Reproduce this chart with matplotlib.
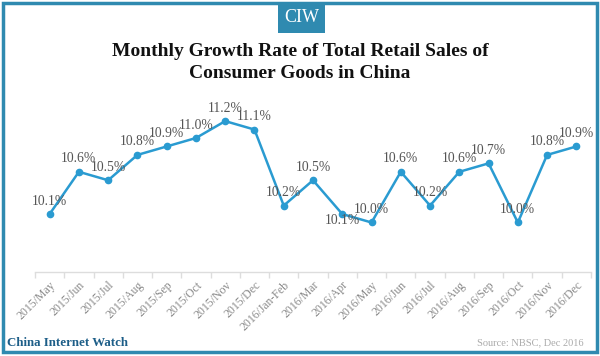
import matplotlib
matplotlib.use("Agg")
import matplotlib.pyplot as plt
from matplotlib.patches import Rectangle
import numpy as np

categories = ["2015/May", "2015/Jun", "2015/Jul", "2015/Aug", "2015/Sep", "2015/Oct",
              "2015/Nov", "2015/Dec", "2016/Jan-Feb", "2016/Mar", "2016/Apr", "2016/May",
              "2016/Jun", "2016/Jul", "2016/Aug", "2016/Sep", "2016/Oct", "2016/Nov", "2016/Dec"]
growth = [10.1, 10.6, 10.5, 10.8, 10.9, 11.0, 11.2, 11.1, 10.2, 10.5, 10.1, 10.0,
          10.6, 10.2, 10.6, 10.7, 10.0, 10.8, 10.9]
value_labels = ["10.1%", "10.6%", "10.5%", "10.8%", "10.9%", "11.0%", "11.2%", "11.1%",
                "10.2%", "10.5%", "10.1%", "10.0%", "10.6%", "10.2%", "10.6%", "10.7%",
                "10.0%", "10.8%", "10.9%"]

W, H = 600, 356
fig = plt.figure(figsize=(6.0, 3.56), dpi=100)
fig.patch.set_facecolor("white")

serif = ["Liberation Serif", "DejaVu Serif"]
teal = "#2f8ab0"

# plot area
left_px, right_px, top_px, bottom_px = 35, 591, 100, 272
ax = fig.add_axes([left_px / W, 1 - bottom_px / H, (right_px - left_px) / W, (bottom_px - top_px) / H])
x = np.arange(len(categories))
ax.plot(x, growth, color="#2a9bd1", lw=1.8, marker="o", ms=4.5, zorder=3)
ax.set_xlim(-0.5, len(categories) - 0.5)
ax.set_ylim(9.414, 11.45)

for i, (v, lab) in enumerate(zip(growth, value_labels)):
    dy = 13
    if categories[i] == "2016/Apr":
        dy = -6
    ax.annotate(lab, (i, v), xytext=(0, dy), textcoords="offset pixels",
                ha="center", va="center", fontsize=9.8, family=serif, color="#555555",
                zorder=4)

for s in ["top", "right", "left"]:
    ax.spines[s].set_visible(False)
ax.spines["bottom"].set_color("#dddddd")
ax.spines["bottom"].set_linewidth(1)
ax.set_yticks([])
ax.set_xticks(x)
ax.set_xticklabels(categories, rotation=45, ha="right", va="top", rotation_mode="anchor",
                   fontsize=8.5, family=serif, color="#8a8a8a")
ax.tick_params(axis="x", which="major", length=0, pad=5)
ax.set_xticks(np.arange(-0.5, len(categories)), minor=True)
ax.tick_params(axis="x", which="minor", length=4, color="#dddddd", width=1)

# border
fig.patches.append(Rectangle((3 / W, 4 / H), 594 / W, 349 / H, transform=fig.transFigure,
                             fill=False, edgecolor=teal, lw=2.5))
# CIW badge
fig.patches.append(Rectangle((278 / W, 1 - 33 / H), 47 / W, 30 / H, transform=fig.transFigure,
                             facecolor=teal, edgecolor="none"))
fig.text(301.5 / W, 1 - 18 / H, "CIW", ha="center", va="center", color="white",
         fontsize=13, family=serif)

fig.text(0.5, 1 - 51 / H, "Monthly Growth Rate of Total Retail Sales of", ha="center",
         va="center", fontsize=14, fontweight="bold", family=serif, color="#111111")
fig.text(0.5, 1 - 73 / H, "Consumer Goods in China", ha="center",
         va="center", fontsize=14, fontweight="bold", family=serif, color="#111111")

fig.text(7 / W, 1 - 343 / H, "China Internet Watch", ha="left", va="center",
         fontsize=9.3, fontweight="bold", family=serif, color="#1d5e88")
fig.text(584 / W, 1 - 343 / H, "Source: NBSC, Dec 2016", ha="right", va="center",
         fontsize=7.5, family=serif, color="#aaaaaa")

fig.savefig("out.png", dpi=100, facecolor="white")
